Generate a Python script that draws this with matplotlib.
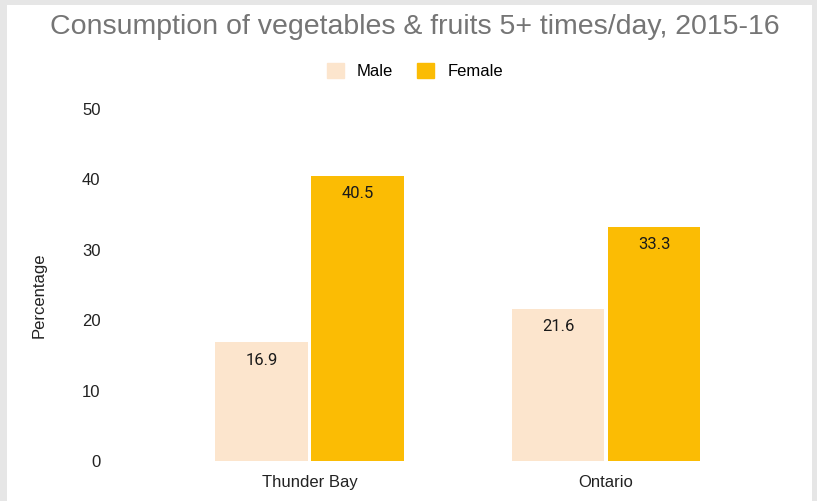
import matplotlib.pyplot as plt
from matplotlib.patches import Patch, Rectangle

# Data
categories = ["Thunder Bay", "Ontario"]
male = [16.9, 21.6]
female = [40.5, 33.3]
yticks = [0, 10, 20, 30, 40, 50]

male_color = "#fce5cd"
female_color = "#fbbc04"

W, H = 817, 501
fig = plt.figure(figsize=(W / 100, H / 100), dpi=100)
fig.patch.set_facecolor("#e6e6e6")
# white card inside the grey frame
fig.patches.append(Rectangle((7 / W, 0), (812 - 7) / W, (H - 5) / H,
                             transform=fig.transFigure, facecolor="white",
                             edgecolor="none", zorder=-5))

ax = fig.add_axes([120 / W, (H - 461) / H, (790 - 120) / W, (461 - 109) / H])
ax.set_facecolor("none")
ax.set_zorder(2)

x = range(len(categories))
bw = 0.312
off = 0.162
mb = ax.bar([i - off for i in x], male, width=bw, color=male_color)
fb = ax.bar([i + off for i in x], female, width=bw, color=female_color)

for bars, vals in ((mb, male), (fb, female)):
    for b, v in zip(bars, vals):
        ax.annotate(f"{v}", (b.get_x() + b.get_width() / 2, v),
                    xytext=(0, -13), textcoords="offset points",
                    ha="center", va="center", fontsize=12,
                    family="Roboto", color="#1a1a1a")

ax.set_xlim(-0.639, 1.62)
ax.set_ylim(0, 50)
ax.set_yticks(yticks)
ax.set_xticks(list(x))
ax.set_xticklabels(categories)
for s in ax.spines.values():
    s.set_visible(False)
ax.tick_params(axis="y", length=0, pad=14, labelsize=12)
ax.tick_params(axis="x", length=0, pad=10, labelsize=12)
for lab in ax.get_xticklabels() + ax.get_yticklabels():
    lab.set_family("Liberation Sans")
    lab.set_color("#222222")

ax.set_ylabel("Percentage", fontsize=12, family="Liberation Sans", color="#222222")
ax.yaxis.set_label_coords(-0.110, 0.47)

fig.text(415 / W, (H - 27) / H, "Consumption of vegetables & fruits 5+ times/day, 2015-16",
         ha="center", va="center", fontsize=20.5, family="Liberation Sans", color="#757575")

handles = [Patch(color=male_color, label="Male"), Patch(color=female_color, label="Female")]
fig.legend(handles=handles, loc="center", bbox_to_anchor=(415 / W, (H - 71) / H),
           ncol=2, frameon=False, handlelength=1.0, handleheight=1.0,
           handletextpad=0.8, columnspacing=1.45, prop={"family": "Liberation Sans", "size": 12})

fig.savefig("out.png", dpi=100)
